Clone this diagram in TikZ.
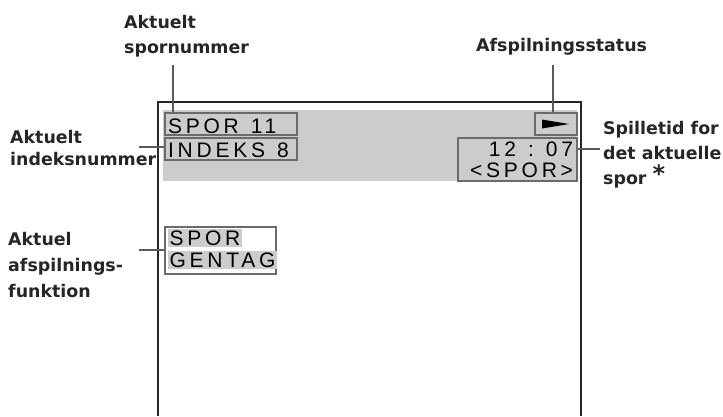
\documentclass[tikz,border=0pt]{standalone}
\usepackage{fontspec}
\setmainfont{DejaVu Sans}
\newfontfamily\lcdfont[LetterSpace=18]{Liberation Sans}
\usetikzlibrary{positioning, calc}
\definecolor{lcdgrey}{HTML}{CCCCCC}
\definecolor{framegrey}{HTML}{6B6B6B}
\definecolor{leadgrey}{HTML}{5A5A5A}
\newcommand\lcdgap{\hspace{12pt}}

\begin{document}
\begin{tikzpicture}[
  x=1pt, y=-1pt,
  lbl/.style={anchor=base west, inner sep=0pt, align=left, text=black!85, font=\fontsize{17.4}{25}\selectfont\bfseries},
  lcd/.style={rectangle, draw=framegrey, line width=2pt, fill=lcdgrey, inner sep=0pt, anchor=north west, minimum height=22pt, text height=18pt, text depth=0pt, font=\lcdfont\fontsize{21}{21}\selectfont},
  lead/.style={draw=leadgrey, line width=1.5pt}
]
\useasboundingbox (0,0) rectangle (723,416);

% screen
\fill[lcdgrey] (163,110) rectangle (577,181);
\draw[line width=2pt, black!85] (158,416) -- (158,102) -- (581,102) -- (581,416);

% display fields
\node[lcd, text width=126pt, inner xsep=3pt, align=left] (spor) at (164,112) {SPOR\lcdgap 11};
\node[lcd, text width=126pt, inner xsep=3pt, align=left] (indeks) at (164,136.5) {INDEKS\lcdgap 8};
\node[lcd, minimum width=42pt] (play) at (534,112) {};
\fill[black] ($(play.center)+(-14,-4.5)$) -- ++(27,4.5) -- ++(-27,4.5) -- cycle;
\node[lcd, minimum height=43pt, text width=111pt, inner xsep=4pt, align=right, text height=16pt, text depth=22pt] (time) at (457,137) {12\lcdgap:\lcdgap 07\\<SPOR>};
\node[lcd, fill=white, minimum height=47pt, text width=105pt, inner xsep=3pt, align=left, text height=16.5pt, text depth=26.5pt,
  font=\lcdfont\fontsize{21}{22}\selectfont] (rep) at (164,226)
  {\setlength{\fboxsep}{1.5pt}\colorbox{lcdgrey}{SPOR}\\\setlength{\fboxsep}{1.5pt}\colorbox{lcdgrey}{GENTAG}};

% labels
\node[lbl] (lblspor) at (124,53) {Aktuelt\\spornummer};
\node[lbl] (lblstatus) at (476,51) {Afspilningsstatus};
\node[lbl, font=\fontsize{17.4}{22}\selectfont\bfseries] (lblindeks) at (10,165) {Aktuelt\\indeksnummer};
\node[lbl, font=\fontsize{17.4}{26}\selectfont\bfseries] (lblfunk) at (8,297) {Aktuel\\afspilnings-\\funktion};
\node[lbl] (lbltid) at (603,184) {Spilletid for\\det aktuelle\\spor {\fontsize{24}{24}\selectfont\raisebox{2pt}{*}}};

% leaders
\coordinate (sporpin) at (173,65);
\coordinate (statuspin) at (553,65);
\coordinate (indekspin) at (139,147);
\coordinate (funkpin) at (139,250);
\coordinate (tidpin) at (600,149);
\draw[lead] (sporpin) -- (sporpin |- spor.north);
\draw[lead] (statuspin) -- (statuspin |- play.north);
\draw[lead] (indekspin) -- (indekspin -| indeks.west);
\draw[lead] (funkpin) -- (funkpin -| rep.west);
\draw[lead] (tidpin) -- (tidpin -| time.east);

\end{tikzpicture}
\end{document}
